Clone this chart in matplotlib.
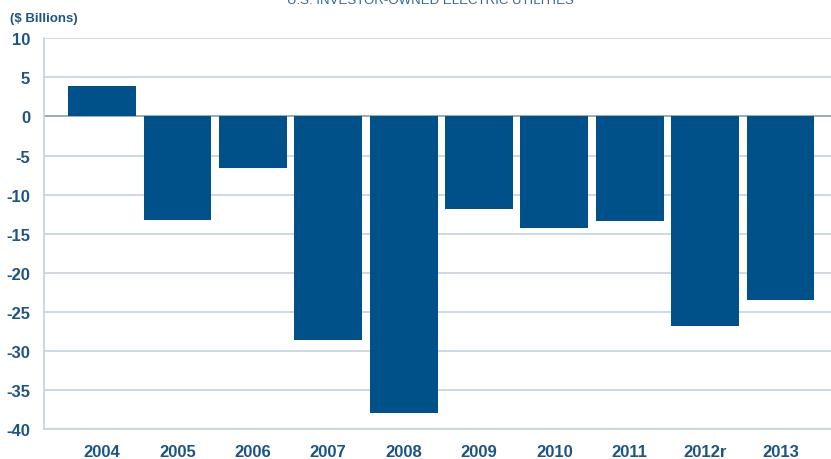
# Net free cash flow bar chart, U.S. investor-owned electric utilities

import matplotlib.pyplot as plt
import numpy as np

YEARS = ['2004', '2005', '2006', '2007', '2008', '2009', '2010', '2011', '2012r', '2013']
# ($ billions)
VALUES = [3.9, -13.3, -6.6, -28.6, -38.0, -11.9, -14.3, -13.4, -26.8, -23.5]
YTICKS = [10, 5, 0, -5, -10, -15, -20, -25, -30, -35, -40]

BAR = '#00518a'
TEXT = '#1b5485'
GRID = '#c3d3e0'

plt.rcParams['font.family'] = ['Liberation Sans', 'DejaVu Sans']

fig = plt.figure(figsize=(8.31, 4.60), dpi=100)
ax = fig.add_axes([44/831, 1 - 430/460, 1 - 44/831, (430 - 39.3)/460])

x = np.arange(len(YEARS))
ax.bar(x, VALUES, width=0.9, color=BAR, zorder=3)

ax.set_xlim(-0.77, len(YEARS) - 1 + 0.67)
ax.set_ylim(-40, 10)
ax.set_yticks(YTICKS)
ax.set_yticklabels([str(v) for v in YTICKS])
ax.set_xticks(x)
ax.set_xticklabels(YEARS)

ax.grid(axis='y', color=GRID, linewidth=1.2, zorder=0)
ax.axhline(0, color='#8fa6ba', linewidth=1.2, zorder=2)
for side in ['top', 'right']:
    ax.spines[side].set_visible(False)
for side in ['left', 'bottom']:
    ax.spines[side].set_color(GRID)
    ax.spines[side].set_linewidth(1.2)

ax.tick_params(axis='both', length=0, colors=TEXT, labelsize=12)
ax.tick_params(axis='y', pad=10)
ax.tick_params(axis='x', pad=11)
for lbl in ax.get_xticklabels() + ax.get_yticklabels():
    lbl.set_fontweight('bold')

fig.text(10/831, 1 - 22/460, '($ Billions)', fontsize=9.5, fontweight='bold', color=TEXT)
fig.text(430/831, 1 - 4/460, 'U.S. INVESTOR-OWNED ELECTRIC UTILITIES',
         ha='center', va='baseline', fontsize=9.5, color='#2e6a9a')

fig.savefig('out.png', dpi=100)
